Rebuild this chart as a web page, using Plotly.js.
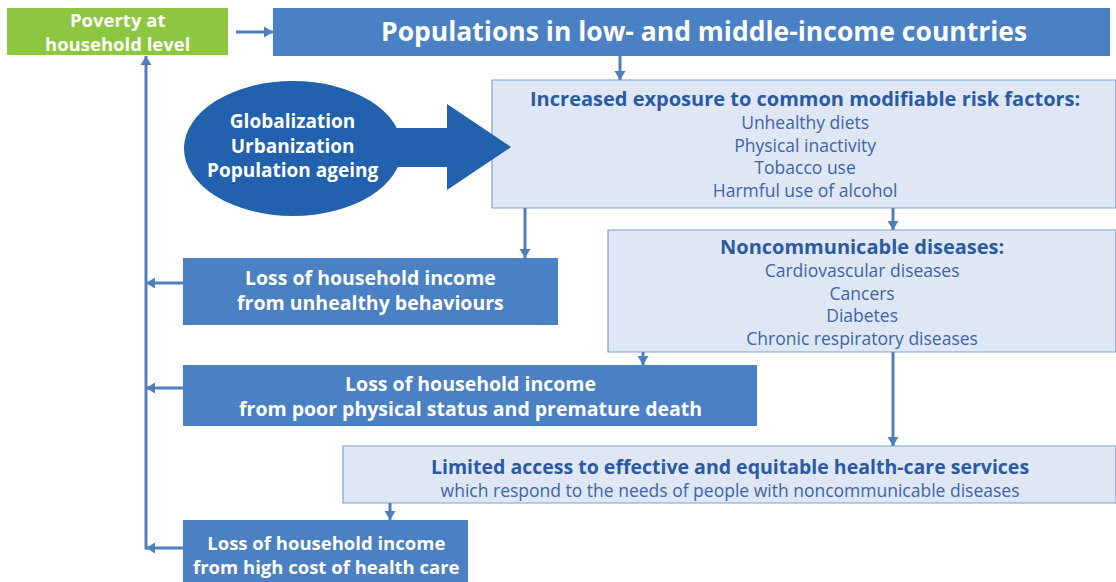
<!DOCTYPE html>
<html><head><meta charset="utf-8">
<script src="https://cdn.plot.ly/plotly-3.0.1.min.js"></script>
<style>html,body{margin:0;padding:0;background:#fff}#chart{width:1116px;height:582px}</style>
</head><body><div id="chart"></div>
<script>
// ---- content (text) ----
const povertyLabel = ["Poverty at", "household level"];
const populationLabel = ["Populations in low- and middle-income countries"];
const driversLabel = ["Globalization", "Urbanization", "Population ageing"];
const riskTitle = ["Increased exposure to common modifiable risk factors:"];
const riskItems = ["Unhealthy diets", "Physical inactivity", "Tobacco use", "Harmful use of alcohol"];
const ncdTitle = ["Noncommunicable diseases:"];
const ncdItems = ["Cardiovascular diseases", "Cancers", "Diabetes", "Chronic respiratory diseases"];
const accessTitle = ["Limited access to effective and equitable health-care services"];
const accessItems = ["which respond to the needs of people with noncommunicable diseases"];
const lossBehaviour = ["Loss of household income", "from unhealthy behaviours"];
const lossDeath = ["Loss of household income", "from poor physical status and premature death"];
const lossCost = ["Loss of household income", "from high cost of health care"];

// ---- styles ----
const FONT = "Open Sans, Noto Sans, sans-serif";
const GREEN = "#8dc63f", BLUE = "#4a80c4", DARK = "#2161ad", LIGHT = "#dfe6f4", BORDER = "#7e9fd2";
const TXT_DARK = "#2a5aa3", TXT_REG = "#3c65a9", LINE = "#4f7fc0";

const shapes = [], annotations = [];
function rect(x0, y0, x1, y1, fill, border) {
  shapes.push({type: "rect", xref: "x", yref: "y", x0, y0, x1, y1, fillcolor: fill,
    line: {color: border || fill, width: border ? 1.2 : 0}, layer: "below"});
}
function block(lines, x, y, size, color, bold) {
  annotations.push({xref: "x", yref: "y", x, y,
    text: lines.map(t => bold ? "<b>" + t + "</b>" : t).join("<br>"),
    showarrow: false, xanchor: "center", yanchor: "middle", align: "center", borderpad: 0,
    font: {family: FONT, size, color}});
}
function titled(title, items, x, y, titleSize, size) {
  const head = `<span style="font-size:${titleSize}px;color:${TXT_DARK}"><b>${title[0]}</b></span>`;
  annotations.push({xref: "x", yref: "y", x, y, text: [head].concat(items).join("<br>"),
    showarrow: false, xanchor: "center", yanchor: "middle", align: "center", borderpad: 0,
    font: {family: FONT, size, color: TXT_REG}});
}
function arrow(x0, y0, x1, y1) {
  shapes.push({type: "line", xref: "x", yref: "y", x0, y0, x1, y1, line: {color: LINE, width: 3}});
  const dx = x1 - x0, dy = y1 - y0, L = Math.hypot(dx, dy), ux = dx / L, uy = dy / L;
  const hl = 9, hw = 5.5;
  const bx = x1 - ux * hl, by = y1 - uy * hl;
  const p = `M${x1},${y1} L${bx - uy * hw},${by + ux * hw} L${bx + uy * hw},${by - ux * hw} Z`;
  shapes.push({type: "path", xref: "x", yref: "y", path: p, fillcolor: LINE, line: {color: LINE, width: 0}});
}

// boxes
rect(7, 8, 228, 55, GREEN);
block(povertyLabel, 117, 31, 18.5, "#fff", true);
rect(273, 8, 1110, 56, BLUE);
block(populationLabel, 704, 31, 26.5, "#fff", true);

rect(492, 80, 1116, 208, LIGHT, BORDER);
titled(riskTitle, riskItems, 805, 143.5, 20, 17.5);

rect(608, 230, 1116, 352, LIGHT, BORDER);
titled(ncdTitle, ncdItems, 862, 291.5, 20, 17.5);

rect(343, 446, 1116, 503, LIGHT, BORDER);
titled(accessTitle, accessItems, 730, 477, 19.5, 17.5);

rect(183, 258, 558, 325, BLUE);
block(lossBehaviour, 370, 290, 19.5, "#fff", true);
rect(183, 365, 757, 426, BLUE);
block(lossDeath, 470, 396, 19.5, "#fff", true);
rect(183, 520, 468, 590, BLUE);
block(lossCost, 326, 554.5, 18.5, "#fff", true);

// ellipse + big arrow
shapes.push({type: "path", xref: "x", yref: "y", fillcolor: DARK, line: {width: 0},
  path: "M380,128 L447,128 L447,104 L511,147 L447,190 L447,167 L380,167 Z"});
shapes.push({type: "circle", xref: "x", yref: "y", x0: 184, y0: 81, x1: 402, y1: 216,
  fillcolor: DARK, line: {width: 0}});
block(driversLabel, 292, 145, 19, "#fff", true);

// connectors
arrow(236, 32, 273, 32);
arrow(620, 56, 620, 80);
arrow(525, 208, 525, 258);
arrow(893, 208, 893, 230);
arrow(643, 352, 643, 365);
arrow(893, 352, 893, 446);
arrow(390, 503, 390, 520);
arrow(183, 283, 146, 283);
arrow(183, 388, 146, 388);
arrow(183, 548, 146, 548);
arrow(146, 549.5, 146, 56);

Plotly.newPlot("chart", [], {
  width: 1116, height: 582, margin: {l: 0, r: 0, t: 0, b: 0},
  paper_bgcolor: "#fff", plot_bgcolor: "#fff",
  xaxis: {range: [0, 1116], visible: false, fixedrange: true},
  yaxis: {range: [582, 0], visible: false, fixedrange: true},
  shapes, annotations, showlegend: false
}, {staticPlot: true, displayModeBar: false});
</script></body></html>
